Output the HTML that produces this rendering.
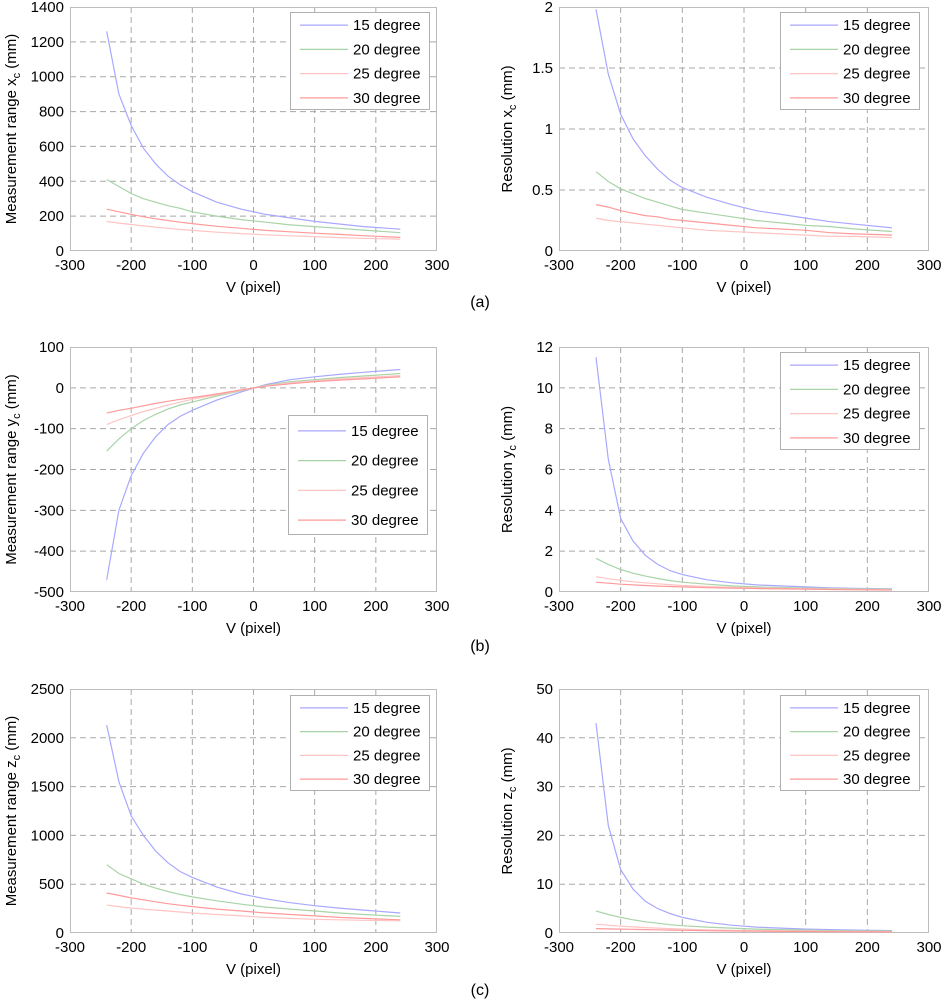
<!DOCTYPE html>
<html><head><meta charset="utf-8"><style>
html,body{margin:0;padding:0;background:#fff;width:942px;height:1000px;overflow:hidden}
svg{display:block;font-family:"Liberation Sans",Arial,sans-serif}
</style></head><body>
<svg id="fig" width="942" height="1000" viewBox="0 0 942 1000" xmlns="http://www.w3.org/2000/svg">
<text x="480" y="307" font-size="16" text-anchor="middle">(a)</text>
<text x="480" y="651" font-size="16" text-anchor="middle">(b)</text>
<text x="480" y="995" font-size="16" text-anchor="middle">(c)</text>
</svg>
<script>
const vPixels = [-240,-220,-200,-180,-160,-140,-120,-100,-60,-20,20,60,100,140,180,240];
const seriesLabels = ["15 degree","20 degree","25 degree","30 degree"];
const xTicks = [-300,-200,-100,0,100,200,300];

const rangeX15 = [1260,900,720,590,500,430,380,340,280,240,210,190,170,155,140,125];
const rangeX20 = [410,370,330,300,280,260,245,225,200,180,165,150,140,130,120,105];
const rangeX25 = [170,160,152,144,137,130,124,118,108,100,93,87,82,77,73,68];
const rangeX30 = [240,225,210,197,185,175,165,157,142,130,118,110,102,95,88,78];
const rangeXTicks = [0,200,400,600,800,1000,1200,1400];

const resX15 = [1.98,1.45,1.12,0.92,0.78,0.67,0.58,0.52,0.44,0.38,0.33,0.30,0.27,0.24,0.22,0.19];
const resX20 = [0.65,0.57,0.51,0.47,0.43,0.40,0.37,0.34,0.31,0.28,0.25,0.23,0.21,0.20,0.18,0.16];
const resX25 = [0.27,0.25,0.24,0.23,0.22,0.21,0.20,0.19,0.17,0.16,0.15,0.14,0.13,0.12,0.12,0.11];
const resX30 = [0.38,0.36,0.33,0.31,0.29,0.28,0.26,0.25,0.23,0.21,0.19,0.18,0.17,0.15,0.14,0.13];
const resXTicks = [0,0.5,1,1.5,2];

const rangeY15 = [-470,-300,-215,-160,-120,-90,-70,-55,-30,-10,8,20,27,33,38,45];
const rangeY20 = [-155,-125,-100,-80,-65,-52,-42,-35,-20,-7,6,15,20,25,29,35];
const rangeY25 = [-90,-78,-68,-58,-50,-42,-35,-28,-17,-6,5,12,17,22,25,30];
const rangeY30 = [-62,-55,-50,-44,-38,-33,-28,-24,-15,-5,4,10,15,19,22,27];
const rangeYTicks = [-500,-400,-300,-200,-100,0,100];

const resY15 = [11.5,6.5,3.6,2.5,1.8,1.35,1.05,0.85,0.6,0.45,0.35,0.3,0.25,0.2,0.18,0.15];
const resY20 = [1.65,1.35,1.1,0.92,0.78,0.66,0.56,0.48,0.38,0.3,0.25,0.22,0.19,0.17,0.15,0.13];
const resY25 = [0.75,0.65,0.57,0.5,0.45,0.4,0.36,0.32,0.27,0.23,0.2,0.18,0.16,0.14,0.13,0.11];
const resY30 = [0.48,0.43,0.38,0.35,0.32,0.29,0.27,0.25,0.21,0.19,0.17,0.15,0.14,0.12,0.11,0.1];
const resYTicks = [0,2,4,6,8,10,12];

const rangeZ15 = [2130,1550,1200,1000,840,720,630,570,470,400,350,310,280,255,235,205];
const rangeZ20 = [700,610,555,500,460,425,395,370,330,295,265,245,225,205,190,170];
const rangeZ25 = [285,270,255,245,235,225,215,205,190,175,160,150,140,135,130,125];
const rangeZ30 = [410,385,360,340,320,300,285,270,245,225,205,190,175,160,150,135];
const rangeZTicks = [0,500,1000,1500,2000,2500];

const resZ15 = [43,22,13,9,6.5,5,4,3.2,2.2,1.6,1.2,1.0,0.8,0.7,0.6,0.5];
const resZ20 = [4.5,3.8,3.2,2.7,2.3,2.0,1.7,1.5,1.2,1.0,0.8,0.7,0.6,0.5,0.45,0.4];
const resZ25 = [1.8,1.6,1.4,1.25,1.1,1.0,0.9,0.8,0.65,0.55,0.5,0.45,0.4,0.35,0.3,0.28];
const resZ30 = [0.9,0.85,0.8,0.75,0.7,0.65,0.6,0.55,0.48,0.42,0.37,0.33,0.3,0.27,0.25,0.22];
const resZTicks = [0,10,20,30,40,50];

const colors = ["#a8a8ff","#a8d4a8","#ffc4c4","#ff9a9a"];
const NS = "http://www.w3.org/2000/svg";
const fig = document.getElementById('fig');

function mk(tag, attrs, parent){
  const e = document.createElementNS(NS, tag);
  for (const k in attrs) e.setAttribute(k, attrs[k]);
  (parent||fig).appendChild(e);
  return e;
}

function plot(cfg){
  const g = mk('g', {});
  
  
  const L=cfg.x0, R=cfg.x1, T=cfg.y0, B=cfg.y1;
  const ymin=cfg.ticks[0], ymax=cfg.ticks[cfg.ticks.length-1];
  const sx = v => L + (v+300)/600*(R-L);
  const sy = v => B - (v-ymin)/(ymax-ymin)*(B-T);
  mk('rect',{x:L,y:T,width:R-L,height:B-T,fill:'#fff',stroke:'none'},g);
  xTicks.forEach(t=>{
    const x=sx(t);
    if(t>-300 && t<300){
      const gl=mk('line',{x1:x,y1:T,x2:x,y2:B,stroke:'#a8a8a8','stroke-width':1,'stroke-dasharray':'6,4'},g);
      
      
    }
    const tl=mk('text',{x:x,y:B+19,'font-size':15,'text-anchor':'middle',fill:'#000'},g);
    tl.textContent=t;
    
    
  });
  cfg.ticks.forEach(t=>{
    const y=sy(t);
    if(t>ymin && t<ymax){
      const gl=mk('line',{x1:L,y1:y,x2:R,y2:y,stroke:'#a8a8a8','stroke-width':1,'stroke-dasharray':'6,4'},g);
      
      
    }
    const tl=mk('text',{x:L-6,y:y+5,'font-size':15,'text-anchor':'end',fill:'#000'},g);
    tl.textContent=t;
    
    
  });
  const box=mk('rect',{x:L+0.5,y:T+0.5,width:R-L-1,height:B-T-1,fill:'none',stroke:'#bdbdbd','stroke-width':1},g);
  
  
  cfg.series.forEach((s,i)=>{
    const d=s.map((v,j)=>(j?'L':'M')+sx(vPixels[j]).toFixed(1)+','+sy(v).toFixed(1)).join(' ');
    const p=mk('path',{d:d,fill:'none',stroke:colors[i],'stroke-width':1.2},g);
    
    
  });
  const xl=mk('text',{x:(L+R)/2,y:B+41,'font-size':15,'text-anchor':'middle',fill:'#000'},g);
  xl.textContent='V (pixel)';
  
  
  const yl=mk('text',{x:0,y:0,'font-size':15,'text-anchor':'middle',fill:'#000',transform:'translate('+cfg.ytx+','+((T+B)/2)+') rotate(-90)'},g);
  
  
  const t1=mk('tspan',{},yl); t1.textContent=cfg.ytitle+' '+cfg.sym;
  const t2=mk('tspan',{dy:4,'font-size':11},yl); t2.textContent='c';
  const t3=mk('tspan',{dy:-4},yl); t3.textContent=' (mm)';
  const lg=mk('g',{},g);
  
  
  const lx=cfg.lx, ly=cfg.ly, lw=139, lh=cfg.lh;
  mk('rect',{x:lx+0.5,y:ly+0.5,width:lw,height:lh,fill:'#fff',stroke:'#b0b0b0','stroke-width':1},lg);
  const step=lh/4;
  seriesLabels.forEach((lab,i)=>{
    const cy=ly+step*(i+0.5)+1;
    const e=mk('g',{},lg);
    
    
    mk('line',{x1:lx+10,y1:cy,x2:lx+58,y2:cy,stroke:colors[i],'stroke-width':1.3},e);
    const tx=mk('text',{x:lx+63,y:cy+5,'font-size':15,fill:'#000'},e);
    tx.textContent=lab;
  });
}

plot({name:'plot-range-xc',x0:70,x1:437,y0:7,y1:251,ticks:rangeXTicks,series:[rangeX15,rangeX20,rangeX25,rangeX30],ytitle:'Measurement range',sym:'x',ytx:16,lx:290,ly:12,lh:97});
plot({name:'plot-resolution-xc',x0:559,x1:929,y0:7,y1:251,ticks:resXTicks,series:[resX15,resX20,resX25,resX30],ytitle:'Resolution',sym:'x',ytx:512,lx:780,ly:12,lh:97});
plot({name:'plot-range-yc',x0:70,x1:437,y0:347,y1:592,ticks:rangeYTicks,series:[rangeY15,rangeY20,rangeY25,rangeY30],ytitle:'Measurement range',sym:'y',ytx:16,lx:288,ly:415,lh:119});
plot({name:'plot-resolution-yc',x0:559,x1:929,y0:347,y1:592,ticks:resYTicks,series:[resY15,resY20,resY25,resY30],ytitle:'Resolution',sym:'y',ytx:512,lx:780,ly:352,lh:97});
plot({name:'plot-range-zc',x0:70,x1:437,y0:689,y1:933,ticks:rangeZTicks,series:[rangeZ15,rangeZ20,rangeZ25,rangeZ30],ytitle:'Measurement range',sym:'z',ytx:16,lx:290,ly:695,lh:95});
plot({name:'plot-resolution-zc',x0:559,x1:929,y0:689,y1:933,ticks:resZTicks,series:[resZ15,resZ20,resZ25,resZ30],ytitle:'Resolution',sym:'z',ytx:512,lx:780,ly:695,lh:95});
</script>
</body></html>
